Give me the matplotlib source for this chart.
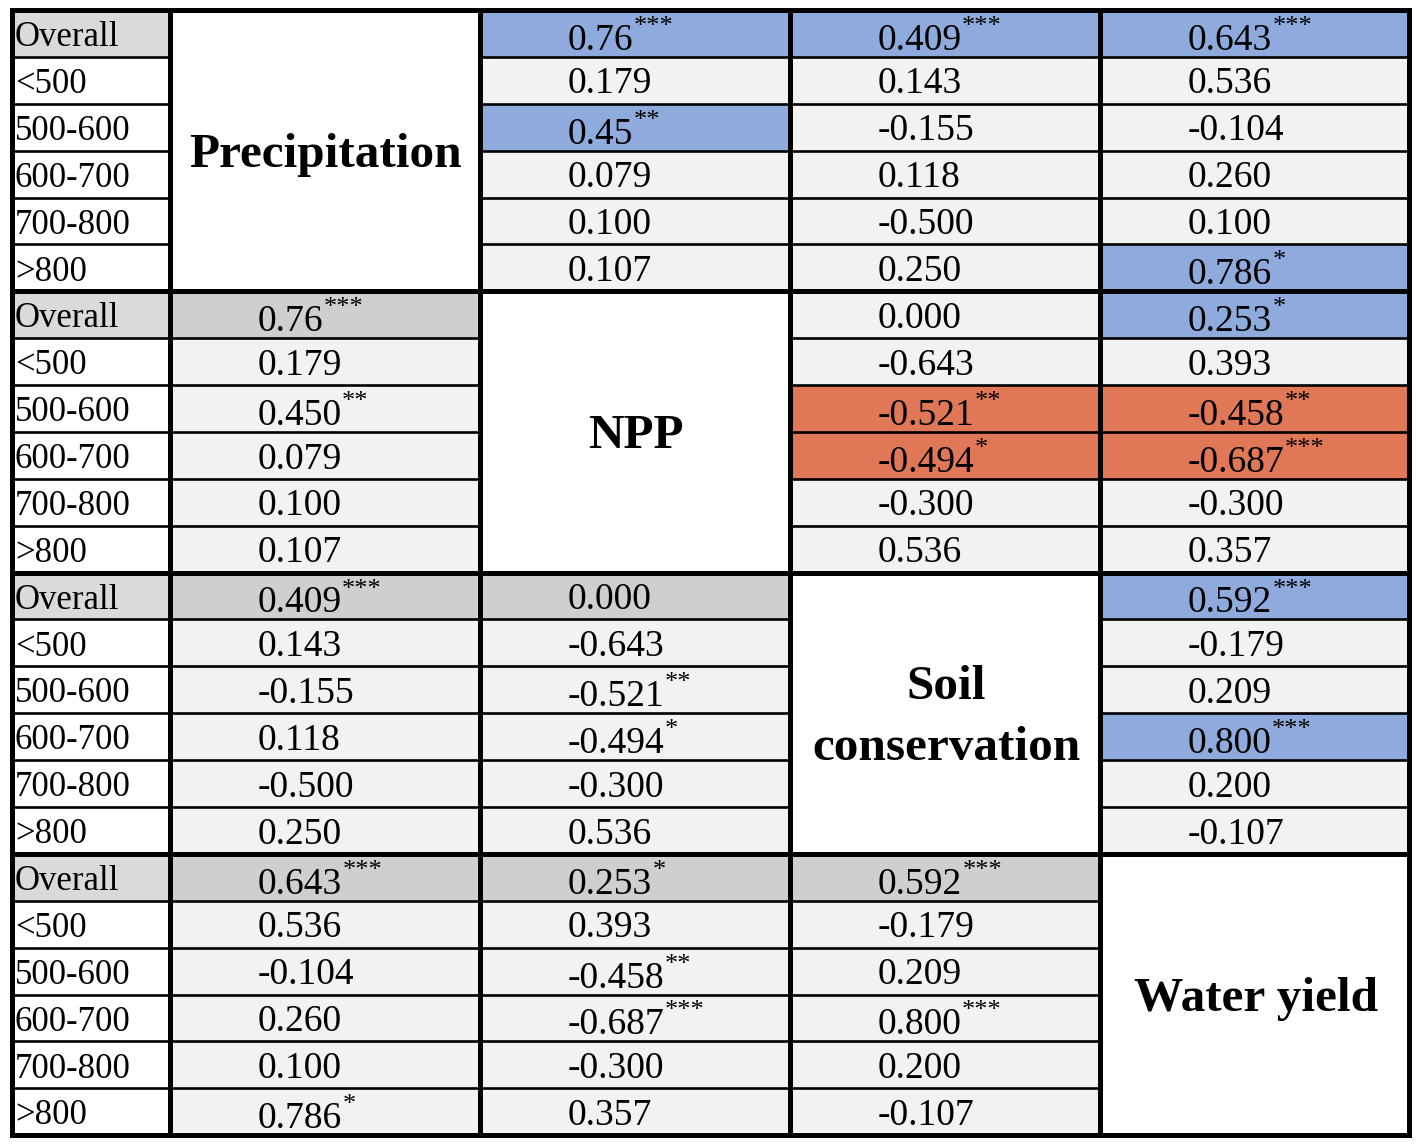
import matplotlib.pyplot as plt
from matplotlib.patches import Rectangle

# variables on the diagonal
variables = ['Precipitation', 'NPP', 'Soil\nconservation', 'Water yield']
zones = ['Overall', '<500', '500-600', '600-700', '700-800', '>800']

# correlation text per block (row variable) and column variable, '' on the diagonal
prec_npp = ['0.76', '0.179', '0.45', '0.079', '0.100', '0.107']
prec_npp_low = ['0.76', '0.179', '0.450', '0.079', '0.100', '0.107']
prec_npp_sig = ['***', '', '**', '', '', '']
prec_soil = ['0.409', '0.143', '-0.155', '0.118', '-0.500', '0.250']
prec_soil_sig = ['***', '', '', '', '', '']
prec_water = ['0.643', '0.536', '-0.104', '0.260', '0.100', '0.786']
prec_water_sig = ['***', '', '', '', '', '*']
npp_soil = ['0.000', '-0.643', '-0.521', '-0.494', '-0.300', '0.536']
npp_soil_sig = ['', '', '**', '*', '', '']
npp_water = ['0.253', '0.393', '-0.458', '-0.687', '-0.300', '0.357']
npp_water_sig = ['*', '', '**', '***', '', '']
soil_water = ['0.592', '-0.179', '0.209', '0.800', '0.200', '-0.107']
soil_water_sig = ['***', '', '', '***', '', '']

# highlight flags in the upper triangle: b = blue, o = orange
prec_npp_hl = ['b', '', 'b', '', '', '']
prec_soil_hl = ['b', '', '', '', '', '']
prec_water_hl = ['b', '', '', '', '', 'b']
npp_soil_hl = ['', '', 'o', 'o', '', '']
npp_water_hl = ['b', '', 'o', 'o', '', '']
soil_water_hl = ['b', '', '', 'b', '', '']

upper = {
    (0, 1): (prec_npp, prec_npp_sig, prec_npp_hl),
    (0, 2): (prec_soil, prec_soil_sig, prec_soil_hl),
    (0, 3): (prec_water, prec_water_sig, prec_water_hl),
    (1, 2): (npp_soil, npp_soil_sig, npp_soil_hl),
    (1, 3): (npp_water, npp_water_sig, npp_water_hl),
    (2, 3): (soil_water, soil_water_sig, soil_water_hl),
}
lower = {
    (1, 0): (prec_npp_low, prec_npp_sig),
    (2, 0): (prec_soil, prec_soil_sig),
    (2, 1): (npp_soil, npp_soil_sig),
    (3, 0): (prec_water, prec_water_sig),
    (3, 1): (npp_water, npp_water_sig),
    (3, 2): (soil_water, soil_water_sig),
}

x_edges = [12, 170, 480, 790, 1100, 1409]
y_top, block_h = 10, 281.3
row_h = block_h / 6

BLUE = '#8faadc'
ORANGE = '#e07858'
CELL = '#f2f2f2'
LABEL_OV = '#d9dadc'
LOW_OV = '#d0cfd0'

fig = plt.figure(figsize=(14.18, 11.44), dpi=100)
ax = fig.add_axes([0, 0, 1, 1])
ax.set_xlim(0, 1418)
ax.set_ylim(1144, 0)
ax.axis('off')

serif = ['Liberation Serif', 'DejaVu Serif']


def put_value(x0, y0, txt, sig):
    base = y0 + row_h * (0.85 if sig else 0.78)
    t = ax.text(x0 + 88, base, txt, fontsize=27, family=serif,
                ha='left', va='baseline')
    if sig:
        ax.annotate(sig, xy=(1, 1), xycoords=t, xytext=(0, -10.5),
                    textcoords='offset points', ha='left', va='bottom',
                    fontsize=19, family=serif)


for b in range(4):
    by = y_top + b * block_h
    for r in range(6):
        y0 = by + r * row_h
        # label column
        ax.add_patch(Rectangle((x_edges[0], y0), x_edges[1] - x_edges[0], row_h,
                               color=LABEL_OV if r == 0 else 'white', lw=0))
        ax.text(x_edges[0] + 3, y0 + row_h * 0.77, zones[r], fontsize=25,
                family=serif, ha='left', va='baseline')
        for c in range(4):
            x0 = x_edges[c + 1]
            w = x_edges[c + 2] - x0
            if c == b:
                continue
            if (b, c) in upper:
                vals, sigs, hls = upper[(b, c)]
                col = {'b': BLUE, 'o': ORANGE}.get(hls[r], CELL)
            else:
                vals, sigs = lower[(b, c)]
                col = LOW_OV if r == 0 else CELL
            ax.add_patch(Rectangle((x0, y0), w, row_h, color=col, lw=0))
            put_value(x0, y0, vals[r], sigs[r])
    # diagonal header cell
    x0 = x_edges[b + 1]
    w = x_edges[b + 2] - x0
    ax.add_patch(Rectangle((x0, by), w, block_h, color='white', lw=0))
    ax.text(x0 + w / 2 + 1, by + block_h * 0.515, variables[b], fontsize=35.5,
            fontweight='bold', family=serif, ha='center', va='center',
            linespacing=1.5)
    # thin row lines
    for r in range(1, 6):
        y = by + r * row_h
        for c in range(5):
            if c == b + 1:
                continue
            ax.plot([x_edges[c], x_edges[c + 1]], [y, y], color='black',
                    lw=1.9, solid_capstyle='butt')

y_bot = y_top + 4 * block_h
for x in x_edges:
    ax.plot([x, x], [y_top, y_bot], color='black', lw=3.6,
            solid_capstyle='projecting')
for b in range(5):
    y = y_top + b * block_h
    ax.plot([x_edges[0], x_edges[-1]], [y, y], color='black', lw=3.6,
            solid_capstyle='projecting')

fig.savefig('out.png', dpi=100, facecolor='white')
